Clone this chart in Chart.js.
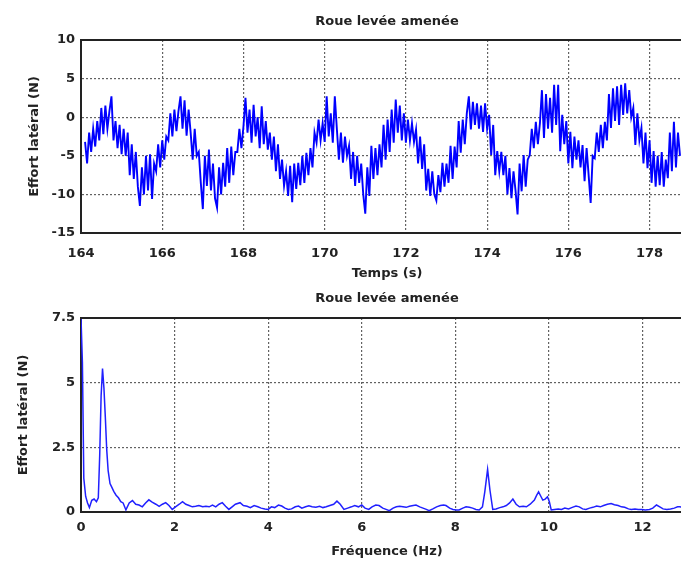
<!DOCTYPE html>
<html>
<head>
<meta charset="utf-8">
<script src="https://cdn.jsdelivr.net/npm/chart.js@4/dist/chart.umd.min.js"></script>
<style>
html,body{margin:0;padding:0;background:#fff;overflow:hidden;width:681px;height:565px;}
#c1{position:absolute;left:0;top:0;}
#c2{position:absolute;left:0;top:285px;}
</style>
</head>
<body>
<canvas id="c1" width="693" height="285"></canvas>
<canvas id="c2" width="693" height="280"></canvas>
<script>
// ---------- DATA ----------
const titleText = "Roue levée amenée";
const topXLabel = "Temps (s)";
const botXLabel = "Fréquence (Hz)";
const yLabel = "Effort latéral (N)";

const topXTicks = [164, 166, 168, 170, 172, 174, 176, 178];
const topYTicks = [-15, -10, -5, 0, 5, 10];
const botXTicks = [0, 2, 4, 6, 8, 10, 12];
const botYTicks = [0, 2.5, 5, 7.5];

// time signal sampled every 0.05 s from 164.10 s
const topTime0 = 164.10;
const topDt = 0.05;
const topForce = [
 -3.2,-6.0,
 -2.0,-4.5,-1.5,-3.8,-0.5,-3.0,
 1.2,-2.2,1.5,-1.5,0.8,
 2.7,-3.0,-0.5,-4.0,-1.0,
 -4.8,-1.5,-5.0,-2.0,
 -7.5,-3.5,-8.0,-4.5,-9.0,
 -11.5,-6.5,-10.0,
 -5.0,-9.5,-4.8,-10.6,-6.0,
 -7.0,-3.5,-6.5,
 -3.0,-5.5,-2.5,
 -3.0,0.5,-2.5,1.0,-1.8,0.8,
 2.7,-1.5,2.2,-2.4,1.0,
 -2.0,-5.5,-1.5,-5.0,
 -4.5,-8.5,-11.9,-5.0,-8.9,-4.2,
 -9.5,-6.0,-10.5,-11.7,-6.5,-10.0,-5.9,-9.0,
 -4.0,-8.5,-3.8,-7.5,-4.5,
 -4.5,-1.5,-4.0,-1.2,
 2.5,-2.0,1.0,-3.3,1.6,-2.5,
 0.0,-4.0,1.4,-3.5,-0.5,-4.2,
 -2.0,-5.5,-2.5,-7.0,-3.5,-8.0,-5.5,-8.9,-7.0,
 -10.2,-6.3,-11.0,
 -6.0,-9.3,-5.9,-8.8,
 -5.0,-8.5,-4.6,-7.5,-4.0,-6.5,-2.0,
 -3.3,-0.3,-3.0,-0.8,-3.2,
 2.7,-2.5,0.5,-3.3,2.7,-1.5,
 -5.5,-2.0,-5.9,-2.5,-5.0,
 -3.7,-8.0,-4.5,-8.9,-5.0,-8.5,-6.0,
 -10.0,-12.5,-6.5,-10.2,-3.7,
 -8.0,-4.0,-7.5,-3.5,-6.5,
 -1.0,-5.5,-0.3,-4.5,
 1.0,-3.3,2.3,-2.0,1.5,-3.0,0.5,
 -3.3,-0.3,-3.0,-0.8,-3.2,
 -1.6,-6.0,-2.5,-6.7,-3.5,
 -9.5,-6.7,-10.2,-7.0,-10.0,-10.8,-7.5,
 -9.7,-5.9,-9.0,-6.0,-8.5,
 -3.7,-8.0,-3.8,-6.5,
 -0.5,-4.6,-0.3,-3.5,0.5,
 2.7,-1.6,2.0,-1.0,1.8,-1.5,1.5,
 -1.9,1.8,-1.5,
 0.3,-4.9,-1.0,
 -7.5,-4.4,-7.0,-4.5,-7.5,-5.0,
 -10.0,-6.6,-10.5,-7.0,-9.5,
 -12.6,
 -6.0,-9.6,-4.9,-9.0,-5.5,
 -4.9,-1.5,-4.0,-0.6,-3.5,-0.8,
 3.5,-2.7,3.0,-1.5,2.5,-2.0,4.2,-1.0,
 4.2,-4.4,0.3,-3.5,-0.5,
 -6.0,-1.9,-6.6,-2.5,-5.5,-3.0,-6.5,
 -3.6,-8.3,-4.0,-7.5,-11.1,-5.0,
 -5.3,-2.0,-4.5,-1.0,-4.0,-0.6,-3.0,
 3.0,-1.4,3.75,-0.5,4.0,-1.0,
 4.2,0.3,4.4,0.5,3.5,
 0.0,1.2,-3.6,0.5,-3.0,
 -1.4,-6.0,-2.0,-6.6,-3.0,
 -8.5,-4.4,-9.0,-5.0,-8.8,-4.5,-9.0,-5.5,
 -7.9,-2.0,-7.0,-0.6,-6.5,-2.0,-5.0
];

// spectrum
const freqs = [
 0,0.03,0.06,0.1,0.14,0.18,0.23,0.28,0.33,0.37,0.4,0.43,0.46,0.49,0.52,0.55,0.58,0.62,0.66,0.7,
 0.75,0.8,0.85,0.9,0.96,1.03,1.1,1.17,1.24,1.31,1.38,1.45,1.52,1.6,1.67,1.74,1.81,1.88,1.95,2.02,
 2.1,2.17,2.24,2.31,2.38,2.45,2.52,2.6,2.67,2.74,2.81,2.88,2.95,3.02,3.09,3.16,3.23,3.3,3.4,3.47,
 3.55,3.62,3.7,3.78,3.85,3.93,4.0,4.07,4.14,4.22,4.29,4.36,4.43,4.5,4.58,4.65,4.72,4.8,4.87,4.94,
 5.02,5.1,5.17,5.24,5.32,5.4,5.47,5.54,5.62,5.7,5.78,5.85,5.93,6.0,6.07,6.15,6.22,6.3,6.37,6.45,
 6.52,6.59,6.67,6.74,6.81,6.88,6.95,7.02,7.1,7.16,7.24,7.31,7.38,7.44,7.52,7.6,7.68,7.75,7.8,7.88,
 7.95,8.02,8.08,8.16,8.23,8.3,8.37,8.44,8.51,8.58,8.63,8.69,8.74,8.8,8.87,8.95,9.02,9.09,9.16,9.23,
 9.3,9.37,9.45,9.52,9.6,9.69,9.74,9.78,9.83,9.87,9.92,9.97,10.01,10.05,10.12,10.2,10.27,10.34,10.42,10.5,
 10.58,10.65,10.72,10.79,10.87,10.94,11.02,11.1,11.17,11.25,11.33,11.4,11.48,11.55,11.62,11.7,11.76,11.84,11.91,11.99,
 12.06,12.15,12.22,12.3,12.37,12.44,12.52,12.6,12.68,12.75,12.8,12.9,13.0
];
const amps = [
 7.5,5.8,1.3,0.6,0.35,0.17,0.45,0.5,0.4,0.55,2.2,4.5,5.55,4.8,3.66,2.4,1.6,1.1,0.95,0.8,
 0.65,0.55,0.4,0.35,0.08,0.35,0.44,0.3,0.27,0.2,0.35,0.47,0.38,0.3,0.22,0.3,0.36,0.25,0.1,0.2,
 0.3,0.4,0.3,0.25,0.2,0.22,0.25,0.2,0.22,0.2,0.27,0.2,0.3,0.36,0.22,0.1,0.2,0.3,0.36,0.25,
 0.22,0.17,0.25,0.2,0.15,0.12,0.1,0.2,0.17,0.27,0.23,0.15,0.1,0.12,0.2,0.23,0.15,0.2,0.24,0.2,
 0.18,0.22,0.17,0.2,0.25,0.3,0.42,0.3,0.1,0.15,0.2,0.25,0.2,0.27,0.15,0.1,0.2,0.27,0.25,0.15,
 0.1,0.05,0.15,0.2,0.22,0.2,0.18,0.22,0.25,0.27,0.2,0.15,0.1,0.05,0.12,0.2,0.25,0.27,0.25,0.15,
 0.1,0.08,0.08,0.15,0.2,0.18,0.15,0.1,0.08,0.2,0.78,1.65,0.85,0.1,0.12,0.17,0.2,0.25,0.35,0.5,
 0.3,0.2,0.22,0.2,0.3,0.46,0.65,0.78,0.6,0.46,0.5,0.59,0.4,0.08,0.1,0.12,0.1,0.15,0.12,0.18,
 0.23,0.2,0.12,0.1,0.15,0.18,0.23,0.2,0.25,0.3,0.33,0.28,0.25,0.2,0.18,0.12,0.1,0.12,0.1,0.1,
 0.08,0.1,0.15,0.27,0.2,0.12,0.1,0.12,0.15,0.2,0.2,0.15,0.12
];

// ---------- STYLE ----------
Chart.defaults.font.family = "'DejaVu Sans', sans-serif";
Chart.defaults.font.size = 13;
Chart.defaults.font.weight = 'bold';
Chart.defaults.color = '#222';
Chart.defaults.animation = false;

const gridColor = 'rgba(70,70,70,0.85)';

const frame = {
  id: 'frame',
  afterDatasetsDraw(chart) {
    const {ctx, chartArea: a} = chart;
    ctx.save();
    ctx.strokeStyle = '#222';
    ctx.lineWidth = 2;
    ctx.beginPath();
    ctx.moveTo(a.left, a.top); ctx.lineTo(a.right, a.top);
    ctx.stroke();
    ctx.restore();
  }
};

function makeChart(id, data, cfg) {
  return new Chart(document.getElementById(id), {
    type: 'line',
    data: { datasets: [{
      data: data,
      borderColor: cfg.lineColor,
      borderWidth: cfg.lineWidth,
      pointRadius: 0,
      tension: 0,
      fill: false
    }]},
    options: {
      responsive: false,
      devicePixelRatio: 1,
      parsing: false,
      normalized: true,
      layout: { padding: 0 },
      plugins: {
        legend: { display: false },
        tooltip: { enabled: false },
        title: {
          display: true, text: titleText, fullSize: false,
          font: { size: 13, weight: 'bold' }, color: '#222',
          padding: { top: cfg.titleTop, bottom: cfg.titleBottom }
        }
      },
      scales: {
        x: {
          type: 'linear', min: cfg.xmin, max: cfg.xmax,
          afterBuildTicks: s => { s.ticks = cfg.xticks.map(v => ({ value: v })); },
          afterFit: s => { s.height = cfg.xh; },
          ticks: { padding: cfg.xTickPad, maxRotation: 0, autoSkip: false, color: '#222' },
          grid: { color: gridColor, lineWidth: 1.2, drawTicks: false },
          border: { display: true, color: '#222', width: 2, dash: [2, 2] },
          title: { display: true, text: cfg.xlabel, color: '#222', padding: { top: 0, bottom: cfg.xTitlePad } }
        },
        y: {
          type: 'linear', min: cfg.ymin, max: cfg.ymax,
          afterBuildTicks: s => { s.ticks = cfg.yticks.map(v => ({ value: v })); },
          afterFit: s => { s.width = 81; },
          ticks: { padding: 6, autoSkip: false, color: '#222' },
          grid: { color: gridColor, lineWidth: 1.2, drawTicks: false },
          border: { display: true, color: '#222', width: 2, dash: [2, 2] },
          title: { display: true, text: yLabel, color: '#222', padding: { top: cfg.yTitlePad, bottom: 0 } }
        }
      }
    },
    plugins: [frame]
  });
}

const topData = topForce.map((v, i) => ({ x: topTime0 + i * topDt, y: v }));
const botData = freqs.map((f, i) => ({ x: f, y: amps[i] }));

makeChart('c1', topData, {
  lineColor: '#0000ff', lineWidth: 1.9,
  titleTop: 14, titleBottom: 10.4,
  xmin: 164, xmax: 179.07, xticks: topXTicks, xh: 52, xTickPad: 13, xlabel: topXLabel, xTitlePad: 4,
  ymin: -15, ymax: 10, yticks: topYTicks, yTitlePad: 27
});
makeChart('c2', botData, {
  lineColor: '#2020ff', lineWidth: 1.5,
  titleTop: 6, titleBottom: 11.4,
  xmin: 0, xmax: 13.08, xticks: botXTicks, xh: 53, xTickPad: 8, xlabel: botXLabel, xTitlePad: 6,
  ymin: 0, ymax: 7.5, yticks: botYTicks, yTitlePad: 16
});
</script>
</body>
</html>
